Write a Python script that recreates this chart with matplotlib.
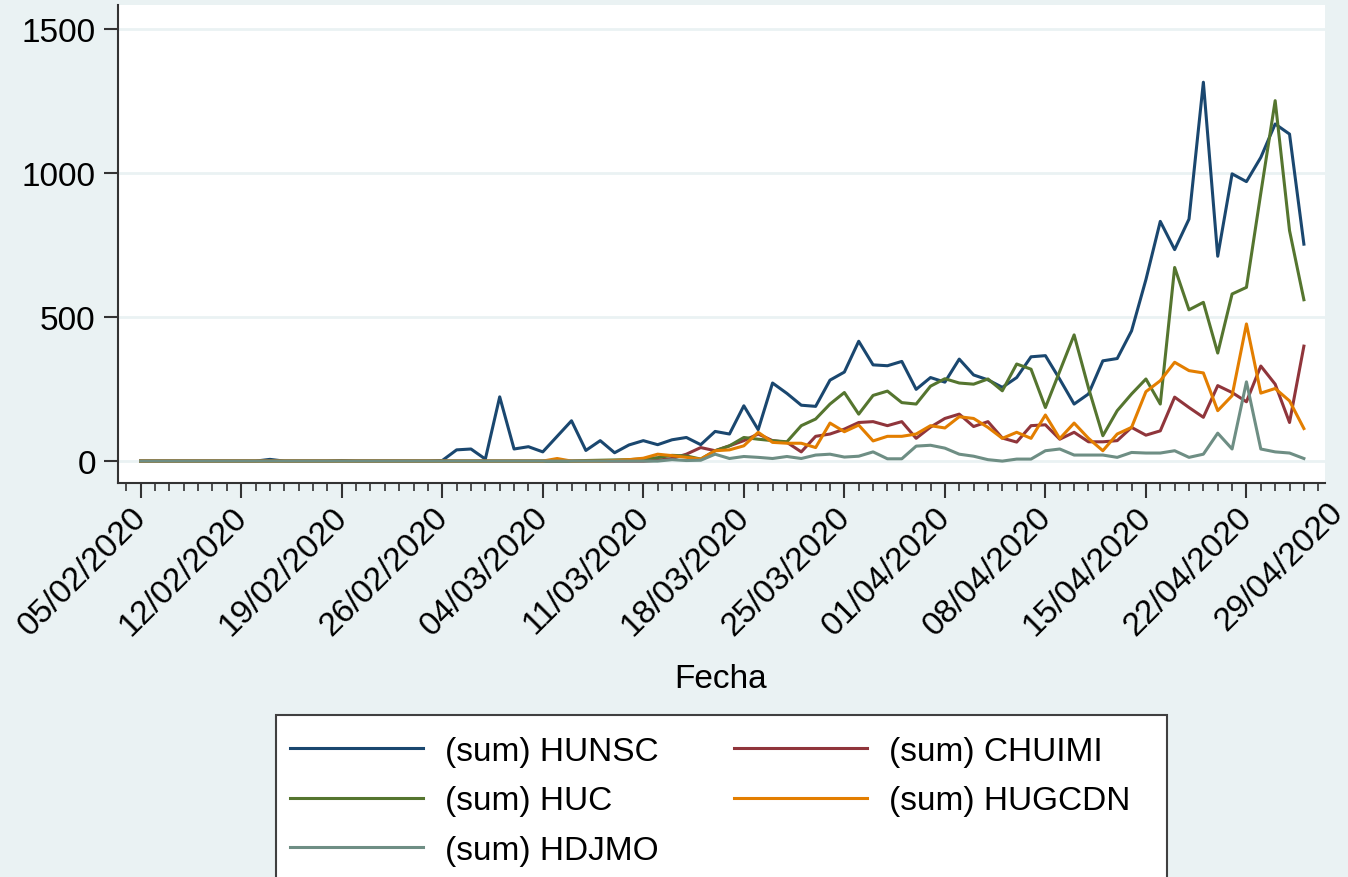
import numpy as np
import pandas as pd
import matplotlib
matplotlib.use('Agg')
import matplotlib.pyplot as plt
import matplotlib.dates as mdates
import matplotlib.transforms as mtransforms
from matplotlib.patches import Rectangle

# Daily series, 05/02/2020 .. 26/04/2020
dates = pd.date_range('2020-02-05', '2020-04-26', freq='D')
tick_dates = pd.date_range('2020-02-05', '2020-04-29', freq='7D')
tick_labels = [d.strftime('%d/%m/%Y') for d in tick_dates]
y_ticks = [0, 500, 1000, 1500]

hunsc = [0, 0, 0, 0, 0, 0, 0, 0, 0, 6, 0, 0, 0, 0, 2, 0, 0, 0, 0, 0,
         0, 2, 39, 42, 7, 223, 42, 50, 32, 86, 140, 37, 71, 29, 56, 71, 57, 74, 82, 57,
         103, 94, 192, 109, 271, 235, 194, 190, 281, 309, 416, 334, 331, 346, 249, 290, 274, 354, 299, 282,
         256, 290, 362, 366, 284, 198, 233, 348, 356, 452, 630, 832, 734, 840, 1315, 711, 997, 970, 1054, 1170,
         1135, 753]
chuimi = [0, 0, 0, 0, 0, 0, 0, 0, 0, 0, 0, 0, 0, 0, 0, 0, 0, 0, 0, 0,
          0, 0, 0, 0, 0, 0, 0, 0, 0, 0, 0, 0, 0, 0, 0, 0, 3, 9, 24, 47,
          36, 53, 71, 94, 71, 65, 32, 86, 94, 111, 134, 137, 123, 137, 79, 118, 148, 163, 120, 137,
          80, 66, 123, 126, 76, 100, 67, 67, 71, 117, 90, 105, 222, 186, 152, 262, 238, 206, 330, 267,
          134, 399]
huc = [0, 0, 0, 0, 0, 0, 0, 0, 0, 0, 0, 0, 0, 0, 0, 0, 0, 0, 0, 0,
       0, 0, 0, 0, 0, 0, 0, 0, 0, 0, 0, 2, 3, 4, 5, 8, 12, 20, 18, 7,
       36, 53, 82, 76, 71, 67, 123, 146, 198, 238, 163, 228, 243, 203, 198, 260, 286, 271, 267, 285,
       244, 337, 319, 186, 312, 438, 254, 88, 175, 233, 285, 198, 672, 525, 551, 375, 580, 603, 930, 1251,
       800, 560]
hugcdn = [0, 0, 0, 0, 0, 0, 0, 0, 0, 0, 0, 0, 0, 0, 0, 0, 0, 0, 0, 0,
          0, 0, 0, 0, 0, 0, 0, 0, 0, 9, 0, 0, 0, 2, 5, 10, 24, 19, 13, 7,
          36, 39, 53, 100, 65, 62, 62, 47, 132, 102, 125, 70, 86, 86, 94, 123, 115, 154, 148, 117,
          79, 100, 79, 160, 78, 132, 79, 36, 94, 117, 241, 279, 343, 314, 306, 175, 227, 476, 236, 252,
          209, 113]
hdjmo = [0, 0, 0, 0, 0, 0, 0, 0, 0, 0, 0, 0, 0, 0, 0, 0, 0, 0, 0, 0,
         0, 0, 0, 0, 0, 0, 0, 0, 0, 0, 0, 0, 0, 0, 0, 0, 0, 5, 2, 3,
         24, 9, 16, 13, 9, 16, 9, 21, 24, 14, 17, 32, 8, 8, 52, 55, 45, 24, 17, 5,
         0, 7, 7, 36, 42, 21, 21, 21, 13, 30, 28, 28, 36, 13, 24, 97, 42, 275, 42, 32,
         28, 9]

series = [('(sum) HUNSC', hunsc, '#1A476F'),
          ('(sum) CHUIMI', chuimi, '#90353B'),
          ('(sum) HUC', huc, '#55752F'),
          ('(sum) HUGCDN', hugcdn, '#E37E00'),
          ('(sum) HDJMO', hdjmo, '#6E8E84')]

plt.rcParams['font.family'] = ['Liberation Sans', 'DejaVu Sans']
bg = '#EAF2F3'
fs = 24
W, H = 1348, 878

fig = plt.figure(figsize=(W / 100, H / 100), dpi=100, facecolor=bg)
ax = fig.add_axes([118 / W, 1 - 484 / H, (1325 - 118) / W, (484 - 6) / H])
ax.set_facecolor('white')

handles = []
for name, vals, col in series:
    h, = ax.plot(dates, vals, color=col, lw=2.2, label=name)
    handles.append(h)

ax.set_ylim(-76, 1583)
ax.set_xlim(dates[0] - pd.Timedelta(days=1.58), dates[0] + pd.Timedelta(days=82.47))

# y axis
ax.set_yticks(y_ticks)
ax.yaxis.grid(True, color=bg, lw=2)
ax.set_axisbelow(True)
ax.tick_params(axis='y', length=10, width=1.5, color='#333333', labelsize=fs, pad=6)

# x axis
ax.set_xticks(tick_dates[:-1], labels=tick_labels[:-1])
ax.xaxis.set_minor_locator(mdates.DayLocator())
ax.tick_params(axis='x', which='major', length=11, width=1.5, color='#333333', labelsize=fs, pad=2)
ax.tick_params(axis='x', which='minor', length=6, width=1.2, color='#333333')
shift = mtransforms.ScaledTranslation(-10 / 100, 0, fig.dpi_scale_trans)
for lab in ax.get_xticklabels():
    lab.set_rotation(45)
    lab.set_ha('right')
    lab.set_va('top')
    lab.set_rotation_mode('anchor')
    lab.set_transform(lab.get_transform() + shift)

# last label sits past the end of the axis
ax.annotate(tick_labels[-1], xy=(tick_dates[-1], 0), xycoords=('data', 'axes fraction'),
            xytext=(-14, -9.5), textcoords='offset points', rotation=45,
            ha='right', va='top', rotation_mode='anchor', fontsize=fs, annotation_clip=False)

for s in ['top', 'right']:
    ax.spines[s].set_visible(False)
for s in ['left', 'bottom']:
    ax.spines[s].set_color('#333333')
    ax.spines[s].set_linewidth(1.5)

fig.text(721 / W, 1 - 680 / H, 'Fecha', ha='center', va='center', fontsize=fs)

# legend box (runs past the bottom edge)
fig.patches.append(Rectangle((276 / W, -0.05), (1167 - 276) / W, 0.05 + 1 - 716 / H,
                             transform=fig.transFigure, facecolor='white',
                             edgecolor='#404040', lw=1.5, zorder=0))

# legend filled row-wise like the original
order = [0, 2, 4, 1, 3]
leg = fig.legend(handles=[handles[i] for i in order], loc='upper left',
                 bbox_to_anchor=(273 / W, 1 - 720 / H), borderaxespad=0,
                 ncol=2, fontsize=fs, frameon=False,
                 handlelength=4.0, handletextpad=0.66, columnspacing=2.25,
                 borderpad=0.5, labelspacing=0.56)

plt.savefig('out.png', dpi=100, facecolor=bg)
